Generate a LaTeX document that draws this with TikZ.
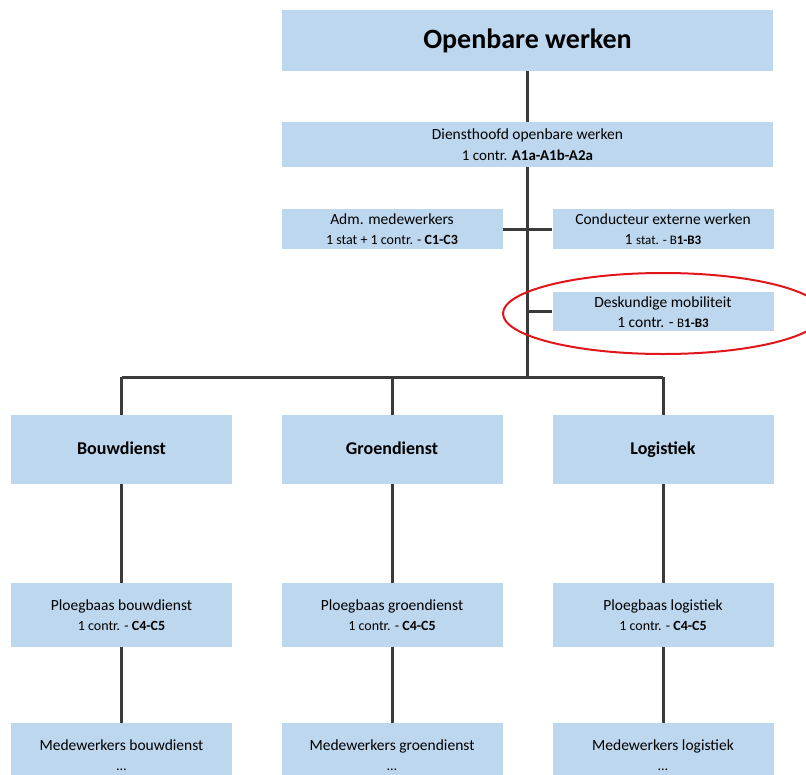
\documentclass[tikz,border=0pt]{standalone}
\usepackage{fontspec}
\setmainfont{Carlito}
\usetikzlibrary{positioning}
\definecolor{boxblue}{HTML}{BDD7EE}
\definecolor{linegray}{HTML}{3A3A3A}
\definecolor{markred}{HTML}{E0161B}
\newcommand{\subline}[2][14]{{\fontsize{#1}{15}\selectfont #2}}

\begin{document}
\begin{tikzpicture}[x=1pt, y=-1pt]
  \tikzset{
    unit/.style={fill=boxblue, align=center, anchor=north, inner sep=0pt,
      minimum width=221pt, font=\fontsize{15.5}{20}\selectfont},
    dept/.style={unit, minimum height=69pt, text height=12pt, text depth=3pt,
      font=\bfseries\fontsize{18}{20}\selectfont},
    link/.style={draw=linegray, line width=3pt},
  }
  \useasboundingbox (0,0) rectangle (806,774);
  \clip (0,0) rectangle (806,774);
  % top
  \node[unit, minimum width=491pt, minimum height=61pt,
    font=\bfseries\fontsize{28}{32}\selectfont] (top) at (527.5,10) {Openbare werken};
  \node[unit, minimum width=491pt, minimum height=45pt, font=\fontsize{15.5}{21}\selectfont]
    (head) at (527.5,122) {Diensthoofd openbare werken\\\subline[15]{1 contr. \textbf{A1a-A1b-A2a}}};
  % staff
  \node[unit, minimum height=40pt] (adm) at (392,209)
    {Adm. medewerkers\\\subline{1 stat + 1 contr. - \textbf{C1-C3}}};
  \node[unit, minimum height=40pt] (cond) at (663,209)
    {Conducteur externe werken\\1 \subline[13]{stat. - B\textbf{1-B3}}};
  \node[unit, minimum height=39pt] (desk) at (663,292)
    {Deskundige mobiliteit\\1 contr. - \subline[13]{B\textbf{1-B3}}};
  % departments
  \node[dept] (bouw) at (121.5,415) {Bouwdienst};
  \node[dept] (groen) at (392,415) {Groendienst};
  \node[dept] (logi) at (663,415) {Logistiek};
  \node[unit, minimum height=64pt] (pbouw) at (121.5,583)
    {Ploegbaas bouwdienst\\\subline{1 contr. - \textbf{C4-C5}}};
  \node[unit, minimum height=64pt] (pgroen) at (392,583)
    {Ploegbaas groendienst\\\subline{1 contr. - \textbf{C4-C5}}};
  \node[unit, minimum height=64pt] (plogi) at (663,583)
    {Ploegbaas logistiek\\\subline{1 contr. - \textbf{C4-C5}}};
  \node[unit, minimum height=64pt] (mbouw) at (121.5,723)
    {Medewerkers bouwdienst\\\subline{\dots}};
  \node[unit, minimum height=64pt] (mgroen) at (392,723)
    {Medewerkers groendienst\\\subline{\dots}};
  \node[unit, minimum height=64pt] (mlogi) at (663,723)
    {Medewerkers logistiek\\\subline{\dots}};

  % connectors
  \coordinate (hub) at (head.south |- 0,377);
  \draw[link] (top.south) -- (head.north);
  \draw[link] (head.south) -- (hub);
  \draw[link] (adm.east) -- (cond.west);
  \draw[link] (desk.west) -- (desk.west -| head.south);
  \draw[link] (bouw.north |- hub) -- (logi.north |- hub);
  \foreach \d in {bouw, groen, logi} {
    \draw[link] (\d.north |- hub) -- (\d.north);
    \draw[link] (\d.south) -- (p\d.north);
    \draw[link] (p\d.south) -- (m\d.north);
  }
  % highlight
  \draw[markred, line width=2pt] (663,313.5) ellipse [x radius=160pt, y radius=40.5pt];
\end{tikzpicture}
\end{document}
